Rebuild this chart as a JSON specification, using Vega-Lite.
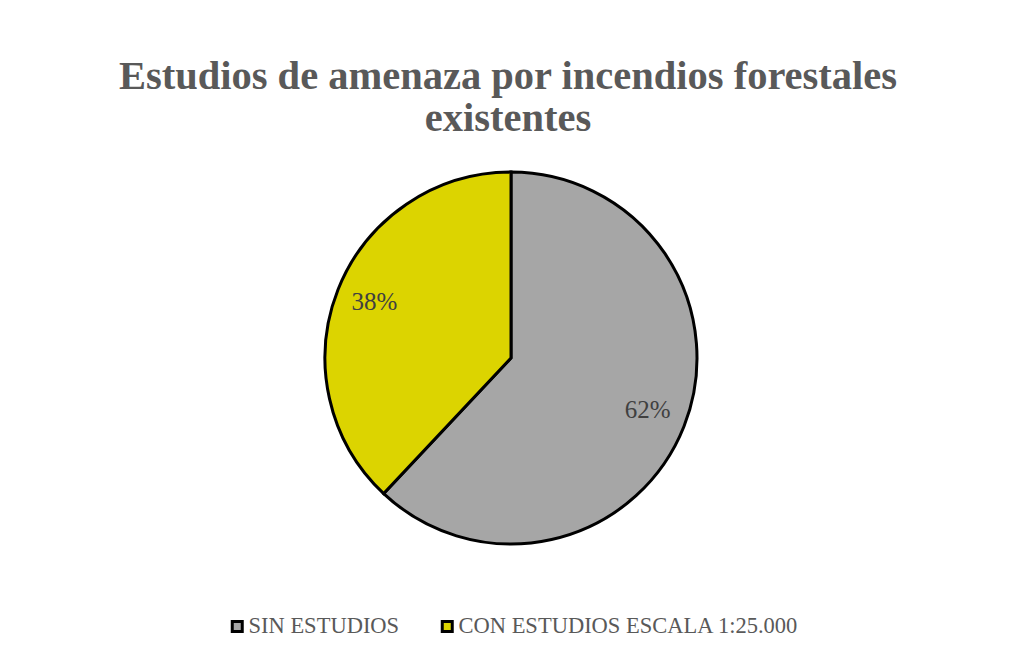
{
  "$schema": "https://vega.github.io/schema/vega-lite/v6.json",
  "autosize": "none",
  "padding": {"left": 325, "top": 172, "right": 321, "bottom": 121},
  "width": 372,
  "height": 372,
  "background": "white",
  "title": {
    "text": ["Estudios de amenaza por incendios forestales", "existentes"],
    "anchor": "middle",
    "frame": "group",
    "font": "Liberation Serif",
    "fontWeight": "bold",
    "fontSize": 40.5,
    "lineHeight": 42,
    "color": "#595959",
    "offset": 27,
    "dx": -3
  },
  "data": {
    "values": [
      {"categoria": "SIN ESTUDIOS", "valor": 0.62},
      {"categoria": "CON ESTUDIOS ESCALA 1:25.000", "valor": 0.38}
    ]
  },
  "encoding": {
    "theta": {"field": "valor", "type": "quantitative", "stack": true},
    "order": {"field": "valor", "sort": "descending"}
  },
  "layer": [
    {
      "mark": {"type": "arc", "stroke": "black", "strokeWidth": 3},
      "encoding": {
        "color": {
          "field": "categoria",
          "type": "nominal",
          "scale": {
            "domain": ["SIN ESTUDIOS", "CON ESTUDIOS ESCALA 1:25.000"],
            "range": ["#A6A6A6", "#DCD400"]
          },
          "legend": {
            "title": null,
            "orient": "none",
            "direction": "horizontal",
            "legendX": -99,
            "legendY": 443,
            "symbolType": "square",
            "symbolSize": 100,
            "symbolStrokeColor": "black",
            "symbolStrokeWidth": 3,
            "symbolOpacity": 1,
            "labelFont": "Liberation Serif",
            "labelFontSize": 22.5,
            "labelColor": "#595959",
            "labelOffset": 0,
            "columnPadding": 36,
            "labelLimit": 500
          }
        }
      }
    },
    {
      "mark": {"type": "text", "radius": 147, "font": "Liberation Serif", "fontSize": 25, "color": "#404040", "dy": -2},
      "encoding": {
        "text": {"field": "valor", "type": "quantitative", "format": ".0%"}
      }
    }
  ]
}
